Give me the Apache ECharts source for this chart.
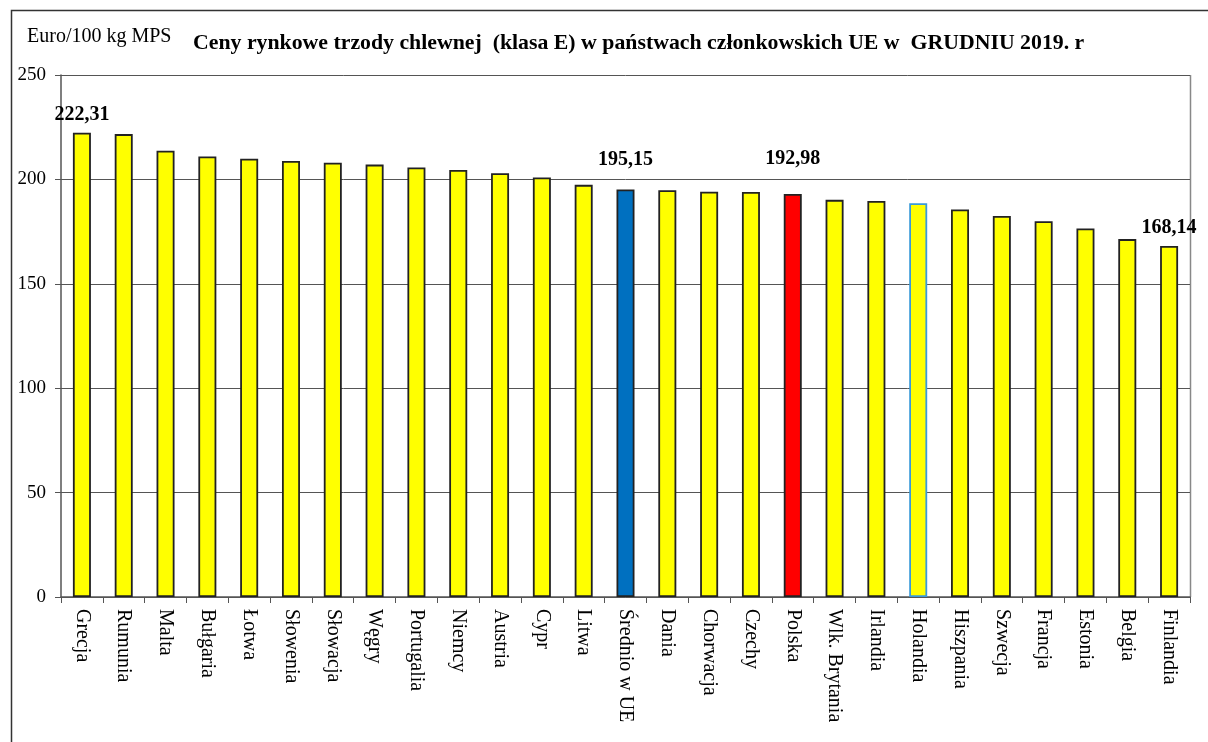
<!DOCTYPE html>
<html><head><meta charset="utf-8">
<script src="https://cdn.jsdelivr.net/npm/echarts@6/dist/echarts.min.js"></script>
<style>html,body{margin:0;padding:0;background:#fff}#c{width:1208px;height:742px}</style>
</head><body><div id="c"></div>
<script>
const categories = ["Grecja","Rumunia","Malta","Bułgaria","Łotwa","Słowenia","Słowacja","Węgry","Portugalia","Niemcy","Austria","Cypr","Litwa","Średnio w UE","Dania","Chorwacja","Czechy","Polska","Wlk. Brytania","Irlandia","Holandia","Hiszpania","Szwecja","Francja","Estonia","Belgia","Finlandia"];
const values = [222.31,221.7,213.7,211.0,209.9,208.8,208.0,207.1,205.7,204.5,203.0,200.9,197.4,195.15,194.8,194.1,194.0,192.98,190.2,189.7,188.6,185.6,182.5,180.0,176.5,171.4,168.14];
const yTicks = [0,50,100,150,200,250];
const labelled = {"Grecja":8,"Średnio w UE":20,"Polska":25,"Finlandia":8};
const SERIF = '"Liberation Serif","DejaVu Serif",serif';

const data = categories.map((c,i)=>{
  let color = '#ffff00', border = '#222222';
  if (c === 'Średnio w UE') color = '#0070c0';
  if (c === 'Polska') color = '#ff0000';
  if (c === 'Holandia') border = '#3a9ad9';
  const item = {value: values[i], itemStyle:{color:color, borderColor:border, borderWidth:1.8}};
  if (labelled[c] !== undefined) {
    item.label = {show:true, position:'top', distance:labelled[c],
      formatter: p => p.value.toFixed(2).replace('.', ','),
      fontFamily:SERIF, fontWeight:'bold', fontSize:20, color:'#000'};
  }
  return item;
});

const chart = echarts.init(document.getElementById('c'));
chart.setOption({
  animation:false,
  backgroundColor:'#fff',
  graphic:[
    {type:'rect', shape:{x:11.5,y:10.5,width:1220,height:760}, style:{fill:'none', stroke:'#333', lineWidth:1.5}, z:-1},
    {type:'text', left:27, top:27, style:{text:'Euro/100 kg MPS', fontFamily:SERIF, fontSize:20, fill:'#000'}},
    {type:'text', left:193, top:32, style:{text:'Ceny rynkowe trzody chlewnej  (klasa E) w państwach członkowskich UE w  GRUDNIU 2019. r', fontFamily:SERIF, fontSize:21.8, fontWeight:'bold', fill:'#000'}},
    {type:'line', shape:{x1:1190.5,y1:75,x2:1190.5,y2:597}, style:{stroke:'#888', lineWidth:1.5}}
  ],
  grid:{left:61, right:18, top:75, bottom:145, containLabel:false},
  xAxis:{
    type:'category', data:categories,
    axisLine:{show:true, lineStyle:{color:'#555', width:1.5}},
    axisTick:{show:true, inside:false, length:6, lineStyle:{color:'#555'}},
    axisLabel:{rotate:-90, interval:0, margin:12, fontFamily:SERIF, fontSize:20, color:'#000'}
  },
  yAxis:{
    type:'value', min:0, max:250, interval:50,
    axisLine:{show:true, lineStyle:{color:'#555', width:1.5}},
    axisTick:{show:true, length:6, lineStyle:{color:'#555'}},
    axisLabel:{margin:15, fontFamily:SERIF, fontSize:19, color:'#000', formatter: v => yTicks.includes(v) ? String(v) : ''},
    splitLine:{show:true, lineStyle:{color:'#555', width:1}}
  },
  series:[{type:'bar', data:data, barWidth:18}]
});
</script></body></html>
